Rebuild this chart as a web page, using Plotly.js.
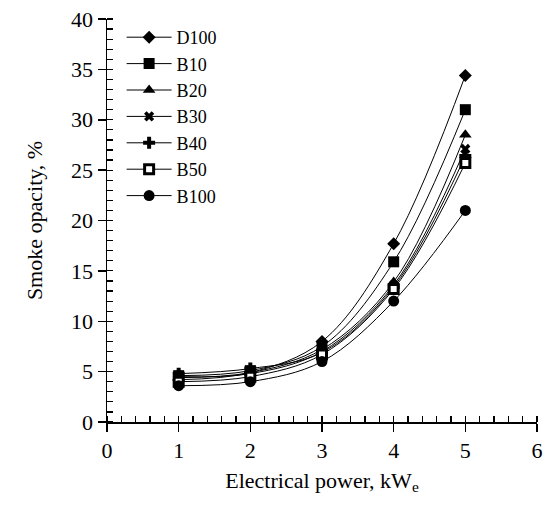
<!DOCTYPE html>
<html><head><meta charset="utf-8">
<script src="https://cdn.plot.ly/plotly-3.0.1.min.js"></script>
<style>body{margin:0;background:#fff}#chart{width:548px;height:506px}</style>
</head><body><div id="chart"></div>
<script>
const power = [1, 2, 3, 4, 5];
const seriesNames = ["D100", "B10", "B20", "B30", "B40", "B50", "B100"];
const D100 = [4.2, 4.9, 8.0, 17.7, 34.4];
const B10  = [4.6, 5.1, 7.5, 15.9, 31.0];
const B20  = [4.4, 4.9, 7.2, 13.9, 28.5];
const B30  = [4.5, 4.8, 7.0, 13.6, 27.1];
const B40  = [4.8, 5.3, 6.9, 13.4, 26.4];
const B50  = [4.0, 4.5, 6.7, 13.2, 25.7];
const B100 = [3.6, 4.0, 6.0, 12.0, 21.0];
const seriesValues = [D100, B10, B20, B30, B40, B50, B100];

const symbols = ["diamond", "square", "triangle-up", "x", "cross", "square", "circle"];
const sizes = [10, 11, 11, 9, 10, 9, 11];
const fills = ["#000", "#000", "#000", "#000", "#000", "#fff", "#000"];
const lineW = [0, 0, 0, 0, 0, 3, 0];

const traces = seriesNames.map((n, i) => ({
  x: power, y: seriesValues[i], name: n, type: "scatter", mode: "lines+markers",
  line: {color: "#000", width: 1, shape: "spline"},
  marker: {symbol: symbols[i], size: sizes[i], color: fills[i], line: {color: "#000", width: lineW[i]}}
}));

const fam = "'Liberation Serif', 'Times New Roman', serif";
const font = {family: fam, size: 22, color: "#000"};
const legFont = {family: fam, size: 18, color: "#000"};
const layout = {
  width: 548, height: 506,
  margin: {l: 107, r: 11, t: 19, b: 84},
  paper_bgcolor: "#fff", plot_bgcolor: "#fff",
  font: font,
  showlegend: true,
  legend: {x: 0.034, y: 1.0, xanchor: "left", yanchor: "top", font: legFont, bgcolor: "rgba(0,0,0,0)",
           itemwidth: 45, tracegroupgap: 0},
  xaxis: {
    range: [0, 6], dtick: 1, tick0: 0, showgrid: false, zeroline: false,
    showline: true, linecolor: "#000", linewidth: 1.5,
    ticks: "outside", ticklen: 8, tickwidth: 1.5, tickcolor: "#000",
    minor: {dtick: 0.2, ticks: "inside", ticklen: 6, tickwidth: 1.2, tickcolor: "#000", showgrid: false},
    tickfont: font,
    title: {text: "Electrical power, kW<sub>e</sub>", font: font, standoff: 10}
  },
  yaxis: {
    range: [0, 40], dtick: 5, tick0: 0, showgrid: false, zeroline: false,
    showline: true, linecolor: "#000", linewidth: 1.5,
    ticks: "outside", ticklen: 8, tickwidth: 1.5, tickcolor: "#000",
    minor: {dtick: 1, ticks: "inside", ticklen: 6, tickwidth: 1.2, tickcolor: "#000", showgrid: false},
    tickfont: font,
    title: {text: "Smoke opacity, %", font: font, standoff: 22}
  }
};
Plotly.newPlot("chart", traces, layout, {displayModeBar: false, staticPlot: true});
</script></body></html>
